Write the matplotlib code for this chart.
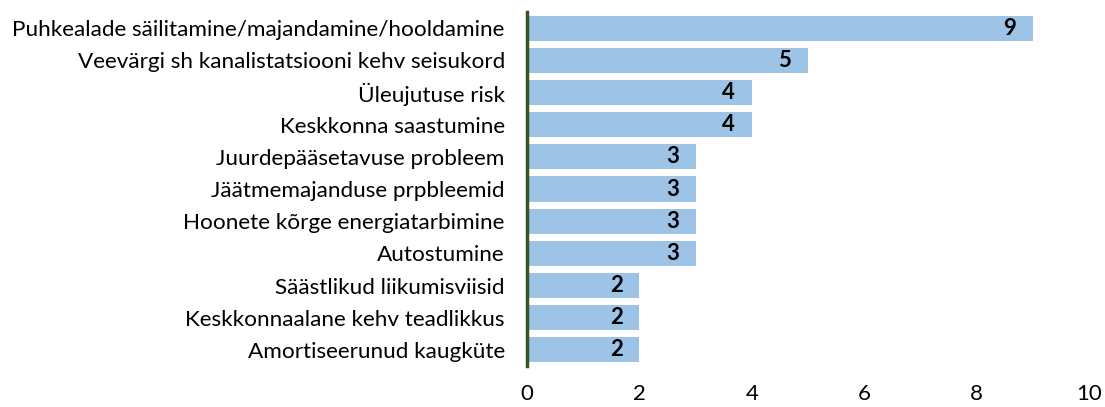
import matplotlib
matplotlib.use("Agg")
import matplotlib.pyplot as plt

categories = [
    "Puhkealade säilitamine/majandamine/hooldamine",
    "Veevärgi sh kanalistatsiooni kehv seisukord",
    "Üleujutuse risk",
    "Keskkonna saastumine",
    "Juurdepääsetavuse probleem",
    "Jäätmemajanduse prpbleemid",
    "Hoonete kõrge energiatarbimine",
    "Autostumine",
    "Säästlikud liikumisviisid",
    "Keskkonnaalane kehv teadlikkus",
    "Amortiseerunud kaugküte",
]
values = [9, 5, 4, 4, 3, 3, 3, 3, 2, 2, 2]
xticks = [0, 2, 4, 6, 8, 10]

plt.rcParams['font.family'] = ['Lato', 'DejaVu Sans']

fig = plt.figure(figsize=(11.05, 4.07), dpi=100)
ax = fig.add_axes([0.477, 0.1007, 0.5085, 0.8698])

ypos = list(range(len(categories)))
bars = ax.barh(ypos, values, height=0.78, color="#9DC3E6")
ax.set_ylim(len(categories) - 0.5, -0.5)
ax.set_xlim(0, 10)
ax.set_yticks(ypos)
ax.set_yticklabels(categories, fontsize=16.2, color="#000000")
ax.set_xticks(xticks)
ax.set_xticklabels([str(t) for t in xticks], fontsize=16)
ax.tick_params(axis='both', length=0)
ax.tick_params(axis='y', pad=16)
ax.tick_params(axis='x', pad=13)
for s in ['top', 'right', 'bottom']:
    ax.spines[s].set_visible(False)
ax.spines['left'].set_color("#375623")
ax.spines['left'].set_linewidth(2.5)

for y, v in zip(ypos, values):
    ax.annotate(str(v), (v, y), xytext=(-12, 0), textcoords='offset points',
                ha='right', va='center', fontsize=16, fontweight='bold')

fig.savefig("out.png", dpi=100)
